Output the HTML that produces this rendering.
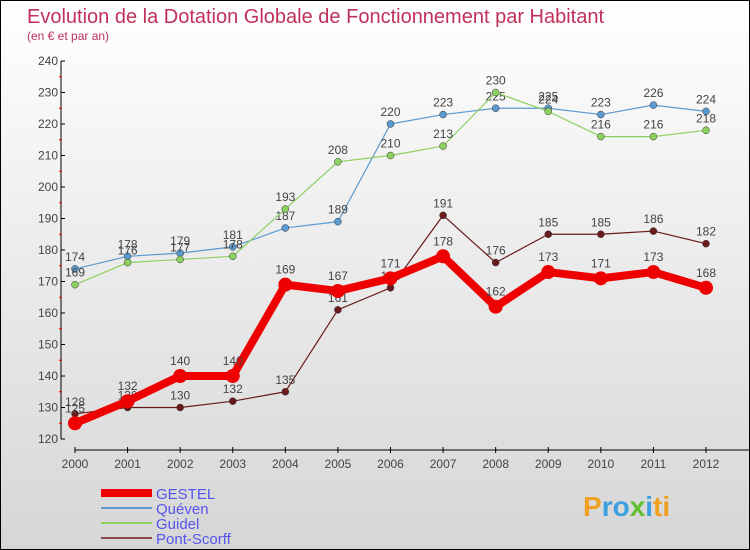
<!DOCTYPE html>
<html><head><meta charset="utf-8"><style>
body{margin:0;width:750px;height:550px;overflow:hidden;font-family:"Liberation Sans",sans-serif}
#wrap{position:relative;width:748px;height:548px;border:1px solid #000;background:linear-gradient(#fff,#d6d6d6)}
</style></head><body>
<div id="wrap">
<svg id="chart" width="748" height="548" style="position:absolute;left:0;top:0">
<text x="26" y="22" font-size="20" fill="#c0305a">Evolution de la Dotation Globale de Fonctionnement par Habitant</text>
<text x="26" y="39" font-size="12" fill="#c0305a">(en € et par an)</text>
<g id="axes"></g><g id="series"></g><g id="legend"></g>
<text x="582" y="515" font-size="28" font-weight="bold"><tspan fill="#f0a020">P</tspan><tspan fill="#3aa0e0">ro</tspan><tspan fill="#60c030">x</tspan><tspan fill="#3aa0e0">i</tspan><tspan fill="#f0a020">ti</tspan></text>
</svg>
</div>
<script>
const years=[2000,2001,2002,2003,2004,2005,2006,2007,2008,2009,2010,2011,2012];
const yTicks=[120,130,140,150,160,170,180,190,200,210,220,230,240];
const gestel=[125,132,140,140,169,167,171,178,162,173,171,173,168];
const queven=[174,178,179,181,187,189,220,223,225,225,223,226,224];
const guidel=[169,176,177,178,193,208,210,213,230,224,216,216,218];
const pontScorff=[128,130,130,132,135,161,168,191,176,185,185,186,182];
const NS="http://www.w3.org/2000/svg";
const xS=i=>74+i*(705-74)/(years.length-1);
const yS=v=>438-(v-120)*(438-60)/120;
function mk(t,a,p){const e=document.createElementNS(NS,t);for(const k in a)e.setAttribute(k,a[k]);p.appendChild(e);return e;}
const ax=document.getElementById('axes');
let l=mk('line',{x1:60,y1:60,x2:60,y2:438,stroke:'#000'},ax);


l=mk('line',{x1:74,y1:449,x2:748,y2:449,stroke:'#000'},ax);


yTicks.forEach((v,i)=>{const y=yS(v);
 mk('line',{x1:60,y1:y,x2:64,y2:y,stroke:'#000'},ax);
 if(i<yTicks.length-1)mk('line',{x1:58,y1:yS(v+5),x2:61,y2:yS(v+5),stroke:'#e00'},ax);
 const t=mk('text',{x:57,y:y+4,'font-size':12,'text-anchor':'end',fill:'#444'},ax);t.textContent=v;
 
 });
years.forEach((yr,i)=>{const x=xS(i);
 mk('line',{x1:x,y1:446,x2:x,y2:452,stroke:'#000'},ax);
 const t=mk('text',{x:x,y:467,'font-size':12,'text-anchor':'middle',fill:'#444'},ax);t.textContent=yr;
 
 });
const sg=document.getElementById('series');
const defs=[[queven,'#5a9ad0',1.2,3.5,'queven'],[guidel,'#8cd060',1.2,3.5,'guidel'],[pontScorff,'#6a1a1a',1.2,3.5,'pont-scorff'],[gestel,'#ee0000',8,7,'gestel']];
defs.forEach(([d,c,w,r,n])=>{
 const p=mk('polyline',{points:d.map((v,i)=>xS(i)+','+yS(v)).join(' '),fill:'none',stroke:c,'stroke-width':w,'stroke-linejoin':'round'},sg);
 
 
 d.forEach((v,i)=>{const cc=mk('circle',{cx:xS(i),cy:yS(v),r:r,fill:c,stroke:n=='gestel'?'none':'#333','stroke-width':0.5},sg);
  
  
  const t=mk('text',{x:xS(i),y:yS(v)-(n=='gestel'?11:8),'font-size':12,'text-anchor':'middle',fill:'#444'},sg);t.textContent=v;
  
  });
});
const lg=document.getElementById('legend');
[['GESTEL','#ee0000',8],['Quéven','#5a9ad0',2],['Guidel','#8cd060',2],['Pont-Scorff','#8a4a4a',2]].forEach(([n,c,w],i)=>{
 const y=492+i*15;
 const g=mk('g',{},lg);
 
 
 mk('line',{x1:100,y1:y,x2:151,y2:y,stroke:c,'stroke-width':w},g);
 const t=mk('text',{x:155,y:y+6,'font-size':15,fill:'#5555ee'},g);t.textContent=n;});
</script>
</body></html>
